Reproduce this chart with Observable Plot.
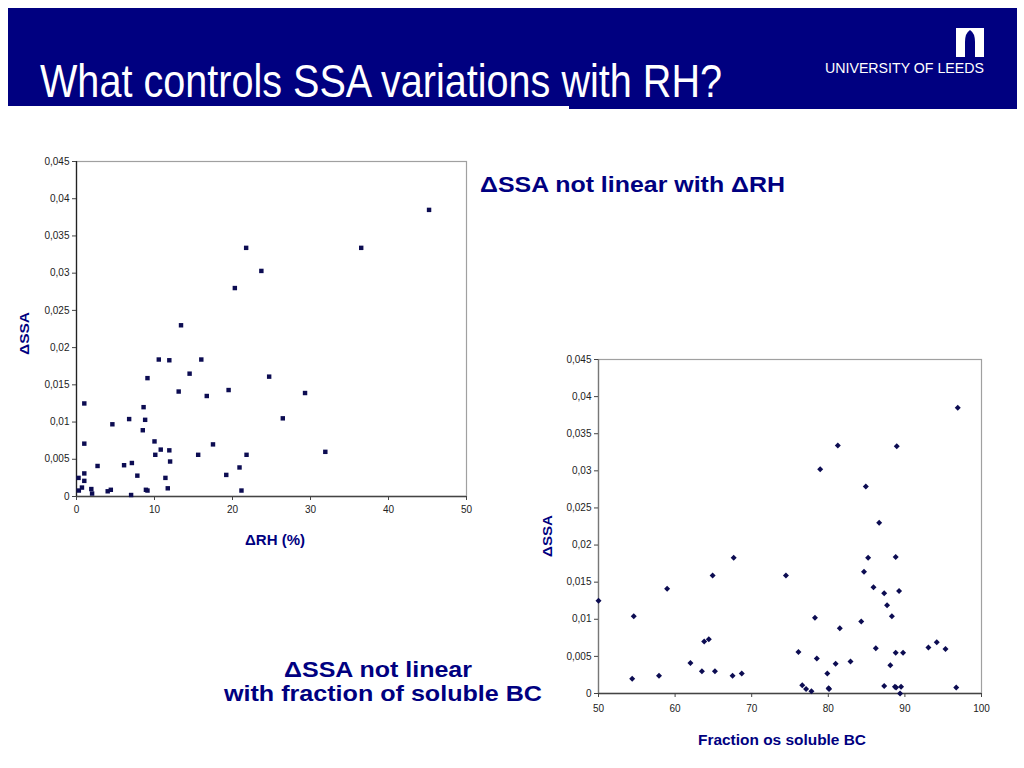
<!DOCTYPE html>
<html>
<head>
<meta charset="utf-8">
<script src="https://cdn.jsdelivr.net/npm/d3@7"></script>
<script src="https://cdn.jsdelivr.net/npm/@observablehq/plot@0.6"></script>
<style>
  html, body { margin: 0; padding: 0; background: #fff; }
  #page { position: relative; width: 1024px; height: 768px; overflow: hidden; background: #fff; font-family: "Liberation Sans", Arial, sans-serif; }
  .chart { position: absolute; }
  #overlay { position: absolute; left: 0; top: 0; pointer-events: none; }
</style>
</head>
<body>
<div id="page">
  <div id="left" class="chart" style="left:0px; top:150px;"></div>
  <div id="right" class="chart" style="left:520px; top:350px;"></div>
  <svg id="overlay" width="1024" height="768"></svg>
</div>
<script>
// ---- Data ----
const leftRH = [0.26,0.3,0.7,1.0,1.0,1.0,1.0,1.9,2.0,2.7,4.0,4.4,4.6,6.1,6.75,7.1,7.0,7.8,8.6,8.5,8.8,9.1,8.9,9.1,10.0,10.1,10.55,10.8,11.4,11.7,11.9,11.9,12.0,13.1,13.4,14.5,15.6,16.0,16.7,17.5,19.2,19.5,20.3,20.9,21.15,21.75,21.8,23.7,24.7,26.45,29.3,31.9,36.5,45.2];
const leftSSA = [0.0025,0.0008,0.0012,0.0031,0.0021,0.0125,0.0071,0.0010,0.0004,0.0041,0.0007,0.0009,0.0097,0.0042,0.0104,0.0045,0.0002,0.0028,0.0120,0.0089,0.0103,0.0159,0.0009,0.0008,0.0074,0.0056,0.0184,0.0063,0.0025,0.0011,0.0183,0.0062,0.0047,0.0141,0.0230,0.0165,0.0056,0.0184,0.0135,0.0070,0.0029,0.0143,0.0280,0.0039,0.0008,0.0334,0.0056,0.0303,0.0161,0.0105,0.0139,0.0060,0.0334,0.0385];

const rightBC = [50.0,54.6,54.4,57.9,58.96,62.0,63.5,63.8,64.4,64.9,65.2,67.5,67.65,68.7,74.47,76.1,76.6,77.1,77.8,78.26,78.5,78.94,79.87,80.04,80.1,80.96,81.24,81.5,82.9,84.3,84.66,84.9,85.2,85.9,86.2,86.64,87.3,87.3,87.67,88.1,88.3,88.7,88.8,88.8,88.85,88.94,89.24,89.37,89.5,89.76,93.07,94.16,95.3,96.7,96.9];
const rightSSA = [0.0125,0.0104,0.0020,0.0024,0.0141,0.0041,0.0030,0.0070,0.0073,0.0159,0.0030,0.0024,0.0183,0.0027,0.0159,0.0056,0.0011,0.0006,0.0003,0.0102,0.0047,0.0302,0.0027,0.0007,0.0006,0.0040,0.0334,0.0088,0.0043,0.0097,0.0164,0.0279,0.0183,0.0143,0.0061,0.0230,0.0010,0.0135,0.0119,0.0038,0.0104,0.0009,0.0184,0.0055,0.0008,0.0333,0.0138,0.0000,0.0009,0.0055,0.0062,0.0069,0.0060,0.0008,0.0385];

const ssaTicks = [0,0.005,0.01,0.015,0.02,0.025,0.03,0.035,0.04,0.045];
const rhTicks = [0,10,20,30,40,50];
const bcTicks = [50,60,70,80,90,100];

const titleText = "What controls SSA variations with RH?";
const logoText = "UNIVERSITY OF LEEDS";
const note1 = "ΔSSA not linear with ΔRH";
const note2a = "ΔSSA not linear";
const note2b = "with fraction of soluble BC";
const leftXLabel = "ΔRH (%)";
const rightXLabel = "Fraction os soluble BC";
const yLabel = "ΔSSA";

const NAVY = "#000080";
const MARK = "#0c0c52";
const comma = d => String(d).replace(".", ",");

const leftData = leftRH.map((x, i) => ({x, y: leftSSA[i]}));
const rightData = rightBC.map((x, i) => ({x, y: rightSSA[i]}));

function chart(data, xDomain, xTicks, symbol, r, opts) {
  return Plot.plot({
    width: opts.width, height: opts.height,
    marginLeft: opts.ml, marginRight: opts.mr, marginTop: opts.mt, marginBottom: opts.mb,
    style: {fontFamily: "'Liberation Sans', Arial, sans-serif", background: "transparent"},
    x: {domain: xDomain, inset: 0},
    y: {domain: [0, 0.045], inset: 0},
    marks: [
      Plot.frame({stroke: "#a0a0a0", strokeWidth: 1.2}),
      Plot.ruleY([0], {stroke: "#444", strokeWidth: 1.3}),
      Plot.ruleX([xDomain[0]], {stroke: opts.yAxisColor, strokeWidth: 1.3}),
      Plot.axisY({ticks: ssaTicks, tickFormat: comma, tickSize: 4, tickPadding: 3, fontSize: 10, fill: "#222", stroke: "#444", label: null}),
      Plot.axisX({ticks: xTicks, tickFormat: d => String(d), tickSize: 4, tickPadding: opts.xpad, fontSize: 10, fill: "#222", stroke: "#444", label: null}),
      Plot.dot(data, {x: "x", y: "y", symbol: symbol, r: r, fill: MARK, stroke: "none"})
    ]
  });
}

document.getElementById("left").appendChild(
  chart(leftData, [0, 50], rhTicks, "square", 2.5,
    {width: 480, height: 410, ml: 76, mr: 14, mt: 11, mb: 64, xpad: 5, yAxisColor: "#222"}));
document.getElementById("right").appendChild(
  chart(rightData, [50, 100], bcTicks, "diamond2", 2.7,
    {width: 480, height: 390, ml: 78, mr: 19, mt: 9, mb: 47, xpad: 7, yAxisColor: "#777"}));

// ---- Overlay: header, annotations, axis titles ----
const svg = d3.select("#overlay");
const FONT = "'Liberation Sans', Arial, sans-serif";
svg.append("rect").attr("x", 8).attr("y", 8).attr("width", 1009).attr("height", 98).attr("fill", NAVY);
svg.append("rect").attr("x", 569).attr("y", 105).attr("width", 448).attr("height", 4).attr("fill", NAVY);

function txt(s, x, y, o) {
  const t = svg.append("text").attr("x", x).attr("y", y).text(s)
    .attr("font-family", FONT).attr("font-size", o.size).attr("fill", o.fill)
    .attr("font-weight", o.weight || "normal").attr("text-anchor", o.anchor || "start");
  if (o.len) t.attr("textLength", o.len).attr("lengthAdjust", "spacingAndGlyphs");
  if (o.rotate) t.attr("transform", `rotate(-90 ${x} ${y})`);
  return t;
}

txt(titleText, 40, 97, {size: 46, fill: "#fff", len: 682});
// logo
svg.append("rect").attr("x", 956).attr("y", 28).attr("width", 28).attr("height", 29).attr("fill", "#fff");
svg.append("path").attr("d", "M965,57 V42 Q965,33 970,30 Q975,33 975,42 V57 Z").attr("fill", NAVY);
txt(logoText, 825, 73, {size: 15, fill: "#fff", len: 159, weight: "500"});

// annotations
txt(note1, 480, 192, {size: 22, fill: NAVY, weight: "bold", len: 305});
txt(note2a, 378, 677, {size: 22, fill: NAVY, weight: "bold", len: 188, anchor: "middle"});
txt(note2b, 383, 701, {size: 22, fill: NAVY, weight: "bold", len: 318, anchor: "middle"});

// axis titles
txt(leftXLabel, 245, 545, {size: 14, fill: NAVY, weight: "bold", len: 60});
txt(rightXLabel, 698, 745, {size: 14, fill: NAVY, weight: "bold", len: 168});
txt(yLabel, 29, 355, {size: 13, fill: NAVY, weight: "bold", len: 43, rotate: true});
txt(yLabel, 552, 557, {size: 13, fill: NAVY, weight: "bold", len: 42, rotate: true});
</script>
</body>
</html>
